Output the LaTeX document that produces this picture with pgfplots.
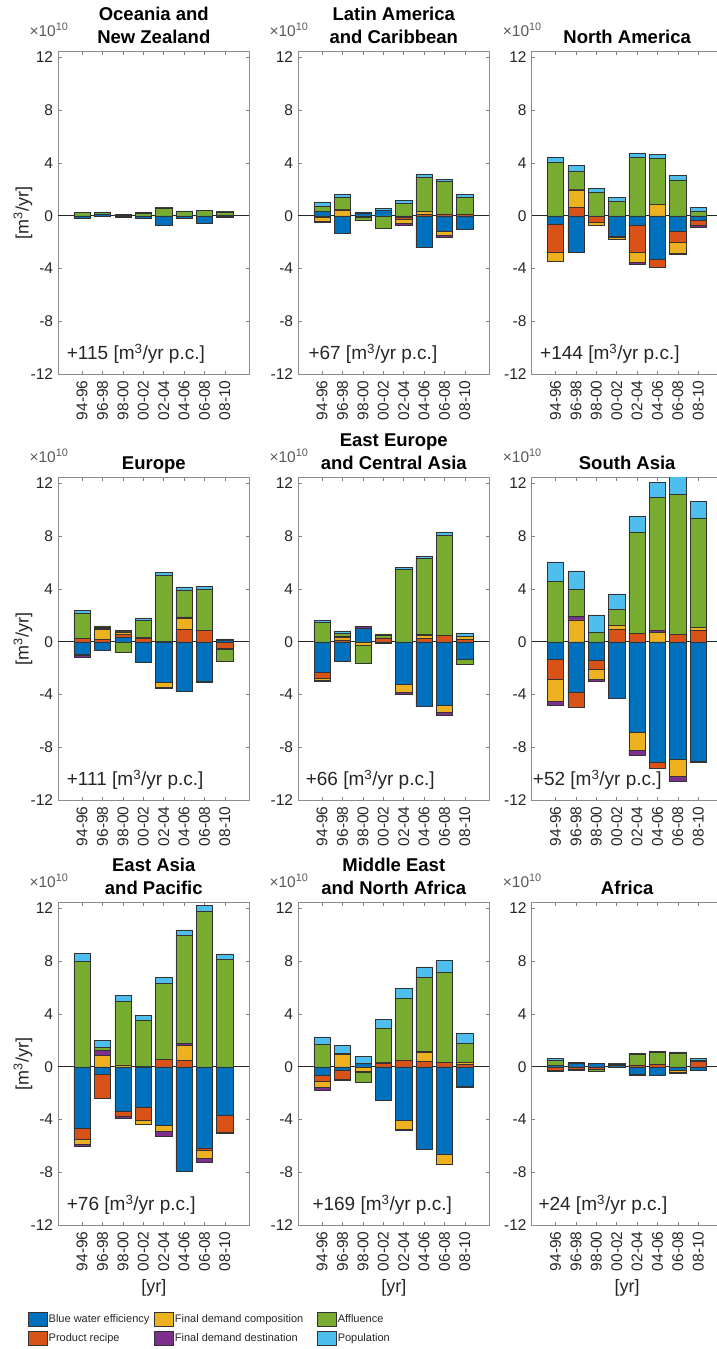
\documentclass[border=0pt]{standalone}
\usepackage{fontspec}
\setmainfont{Liberation Sans}
\usepackage{pgfplots}
\pgfplotsset{compat=1.18}
\usepackage{pgfplotstable}

\definecolor{cb}{HTML}{0072BD}
\definecolor{cp}{HTML}{D95319}
\definecolor{cc}{HTML}{EDB120}
\definecolor{cd}{HTML}{7E2F8E}
\definecolor{ca}{HTML}{77AC30}
\definecolor{cn}{HTML}{4DBEEE}

% columns: b = blue water efficiency, p = product recipe, c = final demand composition,
% d = final demand destination, a = affluence, n = population  (units 1e10 m3/yr)
\pgfplotstableread{
x b p c d a n
1 -0.20 0 0 0 0.25 0.03
2 0.15 0 0 -0.03 0.12 0.03
3 0.05 -0.05 -0.03 0 0.03 0.02
4 -0.20 0 0 0 0.20 0.03
5 -0.72 0 0 0 0.60 0.03
6 -0.20 0 0 -0.02 0.32 0.05
7 -0.55 0 0 -0.05 0.40 0.03
8 -0.12 0.05 0 0 0.25 0.05
}\tOce
\pgfplotstableread{
x b p c d a n
1 0.35 -0.10 -0.30 -0.10 0.40 0.30
2 -1.35 0 0.45 0.05 0.90 0.22
3 0.22 -0.05 -0.05 0 -0.25 0.08
4 0.40 0 0 0 -0.92 0.18
5 -0.15 -0.15 -0.30 -0.15 0.96 0.18
6 -2.37 0.10 0.25 0 2.58 0.20
7 -1.16 0.15 -0.33 -0.13 2.45 0.18
8 -1.00 0.12 0 -0.03 1.29 0.21
}\tLA
\pgfplotstableread{
x b p c d a n
1 -0.61 -2.18 -0.69 0 4.04 0.38
2 -2.77 0.61 1.34 0.06 1.37 0.43
3 -0.05 -0.45 -0.24 0 1.75 0.35
4 -1.52 -0.10 -0.13 0 1.07 0.30
5 -0.69 -2.08 -0.78 -0.15 4.42 0.33
6 -3.30 -0.60 0.84 0 3.53 0.30
7 -1.19 -0.84 -0.81 -0.06 2.72 0.35
8 -0.36 -0.38 0 -0.15 0.33 0.30
}\tNA
\pgfplotstableread{
x b p c d a n
1 -0.94 0.26 -0.10 -0.10 1.93 0.16
2 -0.66 0.20 0.74 0.05 0.13 0.08
3 0.36 0.20 0.18 0.05 -0.77 0.10
4 -1.58 0.30 0.05 0 1.25 0.19
5 -3.04 0.05 -0.42 -0.06 4.98 0.25
6 -3.72 0.94 0.85 0.10 2.04 0.23
7 -2.98 0.84 0 -0.07 3.16 0.21
8 0.10 -0.50 0 -0.04 -0.96 0.12
}\tEU
\pgfplotstableread{
x b p c d a n
1 -2.30 -0.43 -0.15 -0.10 1.45 0.15
2 -1.45 0.15 0.20 0.05 0.24 0.18
3 1.02 -0.03 -0.20 0.13 -1.43 0
4 -0.05 0.30 0 -0.10 0.19 0.10
5 -3.19 0 -0.64 -0.17 5.48 0.13
6 -4.90 0.26 0.25 0.06 5.76 0.15
7 -4.80 0.51 -0.56 -0.20 7.58 0.20
8 -1.35 0.20 0.18 0 -0.38 0.28
}\tEE
\pgfplotstableread{
x b p c d a n
1 -1.32 -1.54 -1.64 -0.30 4.56 1.49
2 -3.82 -1.14 1.65 0.30 2.00 1.42
3 -1.42 -0.68 -0.71 -0.15 0.73 1.30
4 -4.25 0.94 0.28 0 1.24 1.16
5 -6.86 0.66 -1.32 -0.38 7.64 1.17
6 -9.11 -0.46 0.73 0.13 10.08 1.14
7 -8.89 0.56 -1.31 -0.33 10.58 1.50
8 -9.05 0.86 0.25 -0.10 8.26 1.23
}\tSA
\pgfplotstableread{
x b p c d a n
1 -4.66 -0.84 -0.38 -0.12 7.99 0.58
2 -0.59 -1.83 0.89 0.36 0.20 0.55
3 -3.33 -0.38 0.15 -0.18 4.78 0.46
4 -3.05 -0.97 -0.33 0.05 3.44 0.38
5 -4.45 0.56 -0.41 -0.38 5.78 0.40
6 -7.91 0.51 1.12 0.12 8.22 0.39
7 -6.20 -0.12 -0.58 -0.30 11.76 0.43
8 -3.69 -1.27 0 -0.08 8.12 0.43
}\tEA
\pgfplotstableread{
x b p c d a n
1 -0.64 -0.45 -0.46 -0.25 1.70 0.56
2 -0.28 -0.64 0.94 -0.10 0.06 0.60
3 0.25 0 -0.33 -0.05 -0.77 0.51
4 -2.52 0.30 0 0.05 2.60 0.65
5 -4.07 0.48 -0.69 -0.08 4.71 0.74
6 -6.23 0.41 0.68 0.10 5.60 0.77
7 -6.62 0.33 -0.73 -0.03 6.79 0.92
8 -1.50 0.20 0.16 -0.05 1.42 0.76
}\tME
\pgfplotstableread{
x b p c d a n
1 0.08 -0.28 0 -0.05 0.42 0.15
2 0.25 -0.20 0 0.05 -0.03 0.03
3 0.25 -0.15 0 0 -0.22 0.02
4 0.12 -0.05 0 0 0.10 0.03
5 -0.55 0.15 -0.10 0 0.78 0.10
6 -0.66 0.22 0 0 0.85 0.10
7 -0.30 0 -0.15 -0.05 1.00 0.12
8 -0.28 0.42 0 0 0.05 0.17
}\tAF

\newcommand\tickfont{\fontsize{15.5}{18}\selectfont}
\tikzset{
  tfont/.style={font=\fontsize{18.5}{22}\selectfont\bfseries, inner sep=0pt},
  efont/.style={font=\fontsize{15.5}{18}\selectfont, text=black!65, inner sep=0pt},
  afont/.style={font=\fontsize{19}{22}\selectfont, text=black!85, inner sep=0pt},
  lfont/.style={font=\fontsize{18}{21}\selectfont, text=black!85, inner sep=0pt},
  barst/.style={fill=#1, draw=black!80, line width=0.5pt},
}
\pgfplotsset{
  panelbase/.style={
    scale only axis, width=191pt, height=322.6pt,
    xmin=-0.17, xmax=9.2, ymin=-12, ymax=12.42,
    ybar stacked, bar width=0.8, clip mode=individual,
  },
  panel/.style={panelbase,
    xtick={1,...,8},
    xticklabels={94-96,96-98,98-00,00-02,02-04,04-06,06-08,08-10},
    ytick={-12,-8,-4,0,4,8,12},
    yticklabels={-12,-8,-4,0,4,8,12},
    /pgf/number format/assume math mode=true,
    tick align=inside, major tick length=3.5pt,
    tick style={black!50, line width=0.6pt},
    axis line style={black!45, line width=0.8pt},
    xticklabel style={rotate=90, anchor=east, inner sep=0pt, font=\tickfont, text=black!85},
    yticklabel style={anchor=east, inner sep=0pt, font=\tickfont, text=black!85},
    xticklabel shift=6pt, yticklabel shift=5pt,
    extra y ticks={0}, extra y tick labels={},
    extra y tick style={major tick length=0pt, grid=major,
      major grid style={black!85, line width=0.8pt}},
  }
}

\newcommand\posbars[1]{%
  \addplot[barst=cb] table[x=x, y expr={max(\thisrow{b},0)}]{#1};
  \addplot[barst=cp] table[x=x, y expr={max(\thisrow{p},0)}]{#1};
  \addplot[barst=cc] table[x=x, y expr={max(\thisrow{c},0)}]{#1};
  \addplot[barst=cd] table[x=x, y expr={max(\thisrow{d},0)}]{#1};
  \addplot[barst=ca] table[x=x, y expr={max(\thisrow{a},0)}]{#1};
  \addplot[barst=cn] table[x=x, y expr={max(\thisrow{n},0)}]{#1};
}
\newcommand\negbars[1]{%
  \addplot[barst=cb] table[x=x, y expr={min(\thisrow{b},0)}]{#1};
  \addplot[barst=cp] table[x=x, y expr={min(\thisrow{p},0)}]{#1};
  \addplot[barst=cc] table[x=x, y expr={min(\thisrow{c},0)}]{#1};
  \addplot[barst=cd] table[x=x, y expr={min(\thisrow{d},0)}]{#1};
  \addplot[barst=ca] table[x=x, y expr={min(\thisrow{a},0)}]{#1};
  \addplot[barst=cn] table[x=x, y expr={min(\thisrow{n},0)}]{#1};
}

% #1 left, #2 bottom, #3 table, #4 title line 1, #5 title line 2, #6 annotation, #7 annotation offset
\newcommand\panel[7]{%
  \begin{axis}[panel, name=P, at={(#1pt,#2pt)}, anchor=south west]
    \posbars{#3}
  \end{axis}
  \begin{axis}[panelbase, hide axis, at={(#1pt,#2pt)}, anchor=south west]
    \negbars{#3}
  \end{axis}
  \node[tfont, anchor=base] at ([yshift=8.5pt]P.north) {#5};
  \node[tfont, anchor=base] at ([yshift=31.2pt]P.north) {#4};
  \node[efont, anchor=base west] at ([xshift=-29pt,yshift=15.5pt]P.north west) {×10\textsuperscript{10}};
  \node[afont, anchor=base west] at ([xshift=#7pt,yshift=14.5pt]P.south west) {#6 [m\textsuperscript{3}/yr p.c.]};
}
\newcommand\ylab{\node[lfont, rotate=90, anchor=center] at ([xshift=-35.3pt]P.west) {[m\textsuperscript{3}/yr]};}
\newcommand\xlab{\node[lfont, anchor=center] at ([yshift=-63pt]P.south) {[yr]};}

\begin{document}
\begin{tikzpicture}
\panel{58.3}{974.7}{\tOce}{Oceania and}{New Zealand}{+115}{8.4}\ylab
\panel{298.3}{974.7}{\tLA}{Latin America}{and Caribbean}{+67}{10}
\panel{531.7}{974.7}{\tNA}{}{North America}{+144}{8.3}
\panel{58.3}{548.7}{\tEU}{}{Europe}{+111}{8.4}\ylab
\panel{298.3}{548.7}{\tEE}{East Europe}{and Central Asia}{+66}{7.3}
\panel{531.7}{548.7}{\tSA}{}{South Asia}{+52}{1}
\panel{58.3}{123.7}{\tEA}{East Asia}{and Pacific}{+76}{8.4}\ylab\xlab
\panel{298.3}{123.7}{\tME}{Middle East}{and North Africa}{+169}{14}\xlab
\panel{531.7}{123.7}{\tAF}{}{Africa}{+24}{6.6}\xlab

\begin{axis}[hide axis, scale only axis, width=10pt, height=10pt,
  xmin=0, xmax=1, ymin=0, ymax=1,
  at={(28pt,37pt)}, anchor=north west,
  legend columns=3, legend cell align=left,
  legend image code/.code={\draw[#1, line width=0.5pt] (0pt,-7pt) rectangle (19pt,7pt);},
  legend style={at={(0,1)}, anchor=north west, draw=none, fill=none,
    inner sep=0pt, row sep=4pt,
    font=\fontsize{11}{13}\selectfont,
    nodes={inner sep=1pt, text=black!85},
    /tikz/every even column/.append style={column sep=4pt}}]
  \addlegendimage{barst=cb}\addlegendentry{Blue water efficiency}
  \addlegendimage{barst=cc}\addlegendentry{Final demand composition\rule{9pt}{0pt}}
  \addlegendimage{barst=ca}\addlegendentry{Affluence}
  \addlegendimage{barst=cp}\addlegendentry{Product recipe}
  \addlegendimage{barst=cd}\addlegendentry{Final demand destination}
  \addlegendimage{barst=cn}\addlegendentry{Population}
\end{axis}

\pgfresetboundingbox
\useasboundingbox (0pt,0pt) rectangle (716pt,1349pt);
\end{tikzpicture}
\end{document}
